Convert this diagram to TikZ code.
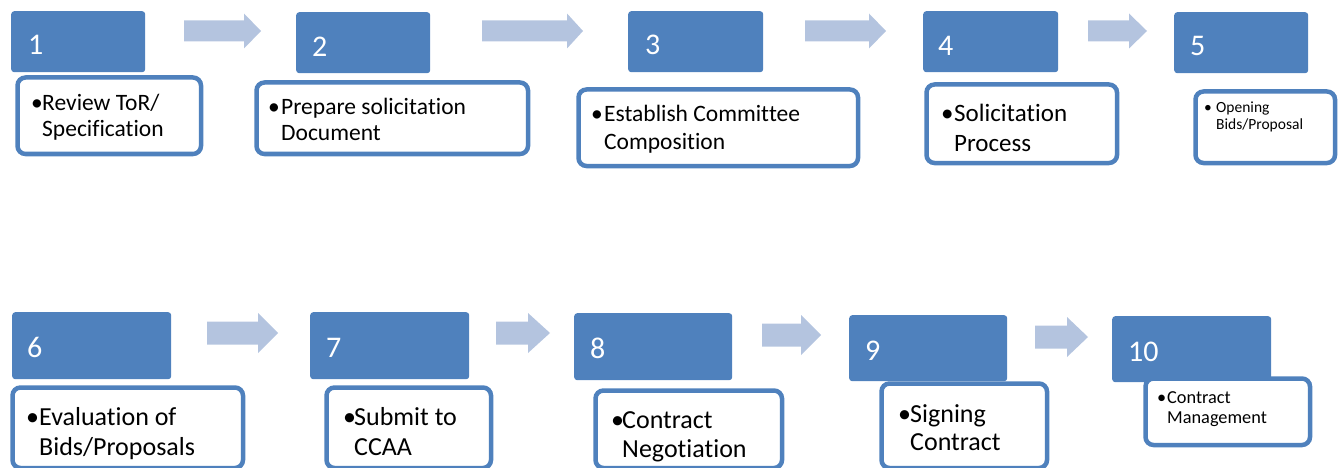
\documentclass[tikz,border=0pt]{standalone}
\usepackage{fontspec}
\setmainfont[Ligatures={NoCommon,NoContextual}]{Carlito}
\definecolor{stepblue}{HTML}{4F81BD}
\definecolor{arrowblue}{RGB}{180,196,223}
\newcommand\nb{\kern0pt }
\newcommand\blkarrow[6]{%
  \fill[arrowblue] (#1,{#4-#5}) -- (#2,{#4-#5}) -- (#2,{#4-#6}) -- (#3,#4) -- (#2,{#4+#6}) -- (#2,{#4+#5}) -- (#1,{#4+#5}) -- cycle;}
\newcommand\bul[3]{\begin{tabular}[t]{@{}l@{}}\makebox[#1pt][l]{•}#2\\\hspace*{#1pt}#3\end{tabular}}
\begin{document}
\begin{tikzpicture}[x=1pt,y=-1pt,
  bluebox/.style={fill=stepblue,draw=none,rounded corners=3pt,inner sep=0pt,anchor=north west},
  whitebox/.style={fill=white,draw=stepblue,line width=4.5pt,rounded corners=8pt,inner sep=0pt,anchor=north west},
  numtxt/.style={text=white,inner sep=0pt,anchor=base west,font=\fontsize{30}{36}\selectfont},
  bodytxt/.style={text=black,inner sep=0pt,anchor=base west}]
\useasboundingbox (0,0) rectangle (1341,468);
\clip (0,0) rectangle (1341,468);
% arrows
\blkarrow{184}{244}{261}{31}{10.5}{17.5}
\blkarrow{482}{567}{583}{31}{10.5}{17.5}
\blkarrow{805}{869}{886}{31}{10.5}{17.5}
\blkarrow{1088}{1129}{1147}{31}{10.5}{17.5}
\blkarrow{207}{258}{278}{333}{11.5}{20}
\blkarrow{496}{528}{550}{333}{11.5}{20}
\blkarrow{762}{801}{821}{335}{11.5}{20}
\blkarrow{1035}{1067}{1088}{337}{11.5}{20}
% blue boxes
\node[bluebox,minimum width=134pt,minimum height=61pt] (b1) at (11,11) {};
\node[bluebox,minimum width=134pt,minimum height=61pt] (b2) at (296,12) {};
\node[bluebox,minimum width=135pt,minimum height=61pt] (b3) at (628,11) {};
\node[bluebox,minimum width=135pt,minimum height=61pt] (b4) at (923,11) {};
\node[bluebox,minimum width=134pt,minimum height=61pt] (b5) at (1174,12) {};
\node[bluebox,minimum width=159pt,minimum height=67pt] (b6) at (12,312) {};
\node[bluebox,minimum width=159pt,minimum height=67pt] (b7) at (310,312) {};
\node[bluebox,minimum width=158pt,minimum height=67pt] (b8) at (574,313) {};
\node[bluebox,minimum width=158pt,minimum height=66pt] (b9) at (849,315) {};
\node[bluebox,minimum width=159pt,minimum height=66pt] (b10) at (1112,316) {};
% numbers
\node[numtxt] (n1) at (28,55) {1};
\node[numtxt] (n2) at (312,57) {2};
\node[numtxt] (n3) at (645,55) {3};
\node[numtxt] (n4) at (938,56) {4};
\node[numtxt] (n5) at (1190,56) {5};
\node[numtxt] (n6) at (27,357) {6};
\node[numtxt] (n7) at (326,357) {7};
\node[numtxt] (n8) at (590,358) {8};
\node[numtxt] (n9) at (865,360) {9};
\node[numtxt] (n10) at (1128,361) {10};
% white boxes (outer edges minus half line width)
\node[whitebox,minimum width=183.5pt,minimum height=76.5pt] (w1) at (15.25,75.25) {};
\node[whitebox,minimum width=271.5pt,minimum height=71.5pt] (w2) at (254.25,80.25) {};
\node[whitebox,minimum width=279.5pt,minimum height=76.5pt] (w3) at (576.25,87.25) {};
\node[whitebox,minimum width=190.5pt,minimum height=78.5pt] (w4) at (924.25,82.25) {};
\node[whitebox,minimum width=139.5pt,minimum height=71.5pt] (w5) at (1193.25,89.25) {};
\node[whitebox,minimum width=230.5pt,minimum height=80.5pt] (w6) at (10.25,385.25) {};
\node[whitebox,minimum width=164.5pt,minimum height=80.5pt] (w7) at (324.25,385.25) {};
\node[whitebox,minimum width=186.5pt,minimum height=77.5pt] (w8) at (593.25,388.25) {};
\node[whitebox,minimum width=165.5pt,minimum height=84.5pt] (w9) at (879.25,381.25) {};
\node[whitebox,minimum width=164.5pt,minimum height=66.5pt] (w10) at (1143.25,376.25) {};
% texts
\node[bodytxt,font=\fontsize{23.5}{26}\selectfont] (t1) at (31,111) {\bul{11}{Review ToR/}{Specif\nb ication}};
\node[bodytxt,font=\fontsize{23.5}{25}\selectfont] (t2) at (268,115) {\bul{13}{Prepare solicit\nb ation}{Document}};
\node[bodytxt,font=\fontsize{23.5}{28}\selectfont] (t3) at (591,122) {\bul{13}{Establish Commit\nb tee}{Composit\nb ion}};
\node[bodytxt,font=\fontsize{25}{30}\selectfont] (t4) at (941,122) {\bul{13}{Solicit\nb ation}{Process}};
\node[bodytxt,font=\fontsize{15.5}{17}\selectfont] (t5) at (1204,113) {\bul{12}{Opening}{Bids/Proposal}};
\node[bodytxt,font=\fontsize{26}{30}\selectfont] (t6) at (26,425) {\bul{13}{Evaluat\nb ion of}{Bids/Proposals}};
\node[bodytxt,font=\fontsize{26}{30}\selectfont] (t7) at (343,425) {\bul{11}{Submit to}{CCAA}};
\node[bodytxt,font=\fontsize{26}{29}\selectfont] (t8) at (611,428) {\bul{11}{Contract}{Negot\nb iat\nb ion}};
\node[bodytxt,font=\fontsize{26}{28}\selectfont] (t9) at (898,422) {\bul{12}{Signing}{Contract}};
\node[bodytxt,font=\fontsize{18.3}{20}\selectfont] (t10) at (1157,403) {\bul{10}{Contract}{Management}};
\end{tikzpicture}
\end{document}
